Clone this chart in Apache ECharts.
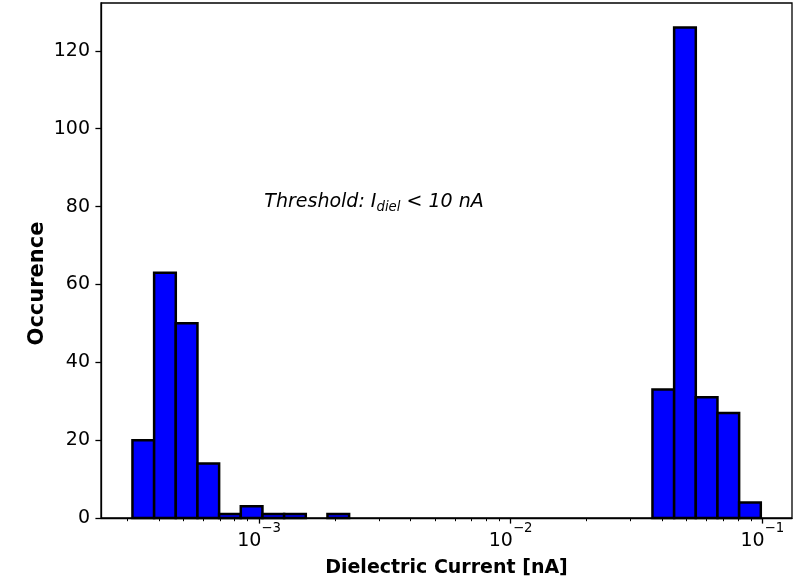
<!DOCTYPE html>
<html><head><meta charset="utf-8">
<script src="https://cdn.jsdelivr.net/npm/echarts@6/dist/echarts.min.js"></script>
<style>html,body{margin:0;padding:0;background:#fff}#c{width:796px;height:583px}</style>
</head><body><div id="c"></div>
<script>
// Histogram of dielectric current (log-spaced bins, 29 bins)
const binLogMin = -3.503;          // log10 of lower edge of first bin
const binLogMax = -1.006;          // log10 of upper edge of last bin
const counts = [20, 63, 50, 14, 1, 3, 1, 1, 0, 1,
                0, 0, 0, 0, 0, 0, 0, 0, 0, 0,
                0, 0, 0, 0, 33, 126, 31, 27, 4];
const xMajorTicks = [-3, -2, -1];
const xMinorValues = [3e-4, 4e-4, 5e-4, 6e-4, 7e-4, 8e-4, 9e-4,
                      2e-3, 3e-3, 4e-3, 5e-3, 6e-3, 7e-3, 8e-3, 9e-3,
                      2e-2, 3e-2, 4e-2, 5e-2, 6e-2, 7e-2, 8e-2, 9e-2];
const yTicks = [0, 20, 40, 60, 80, 100, 120];
const xName = 'Dielectric Current [nA]';
const yName = 'Occurence';
const annotPos = [1.05e-3, 79];

const nBins = counts.length;
const edges = [];
for (let i = 0; i <= nBins; i++) edges.push(binLogMin + i * (binLogMax - binLogMin) / nBins);
const barData = [];
counts.forEach((c, i) => { if (c > 0) barData.push([edges[i], edges[i + 1], c]); });
const minorLog = xMinorValues.map(v => Math.log10(v));

const FF = 'DejaVu Sans';
const XMIN = -3.628, XMAX = -0.882;

const chart = echarts.init(document.getElementById('c'), null, {renderer: 'canvas'});
chart.setOption({
  animation: false,
  backgroundColor: '#fff',
  grid: {left: 101, right: 4, top: 3, bottom: 65, show: true, borderColor: '#000', borderWidth: 1.3,
         backgroundColor: 'transparent', containLabel: false, outerBoundsMode: 'none'},
  xAxis: [{
    type: 'value', min: XMIN, max: XMAX, position: 'bottom',
    axisLine: {show: true, onZero: false, lineStyle: {color: '#000', width: 1.3}},
    splitLine: {show: false},
    axisTick: {show: true, inside: false, length: 5.6, customValues: xMajorTicks, lineStyle: {color: '#000', width: 1.3}},
    axisLabel: {
      customValues: xMajorTicks, margin: 4.5,
      formatter: v => '{b|10}{s|\u2212' + Math.round(-v) + '}',
      rich: {
        b: {fontFamily: FF, fontSize: 19, color: '#000', lineHeight: 28, verticalAlign: 'bottom'},
        s: {fontFamily: FF, fontSize: 13.3, color: '#000', verticalAlign: 'top'}
      }
    },
    name: xName, nameLocation: 'middle', nameGap: 41,
    nameTextStyle: {fontFamily: FF, fontWeight: 'bold', fontSize: 19, color: '#000'}
  }, {
    type: 'value', min: XMIN, max: XMAX, position: 'bottom',
    axisLine: {show: false, onZero: false},
    splitLine: {show: false},
    axisTick: {show: true, inside: false, length: 3.2, customValues: minorLog, lineStyle: {color: '#000', width: 1}},
    axisLabel: {show: false}
  }],
  yAxis: {
    type: 'value', min: 0, max: 132.3,
    axisLine: {show: true, lineStyle: {color: '#000', width: 1.3}},
    splitLine: {show: false},
    axisTick: {show: true, inside: false, length: 5.6, customValues: yTicks, lineStyle: {color: '#000', width: 1.3}},
    axisLabel: {customValues: yTicks, margin: 11, fontFamily: FF, fontSize: 19, color: '#000'},
    name: yName, nameLocation: 'middle', nameGap: 53, nameRotate: 90, nameMoveOverlap: false,
    nameTextStyle: {fontFamily: FF, fontWeight: 'bold', fontSize: 21, color: '#000', padding: [0, 46, 0, 0]}
  },
  series: [{
    type: 'custom', xAxisIndex: 0, yAxisIndex: 0,
    data: barData,
    encode: {x: [0, 1], y: 2},
    renderItem: (params, api) => {
      const p0 = api.coord([api.value(0), api.value(2)]);
      const p1 = api.coord([api.value(1), 0]);
      return {type: 'rect', shape: {x: p0[0], y: p0[1], width: p1[0] - p0[0], height: p1[1] - p0[1]},
              style: {fill: '#0000ff', stroke: '#000', lineWidth: 2.5}};
    }
  }, {
    type: 'custom', xAxisIndex: 0, yAxisIndex: 0,
    data: [[Math.log10(annotPos[0]), annotPos[1]]],
    encode: {x: 0, y: 1},
    renderItem: (params, api) => {
      const p = api.coord([api.value(0), api.value(1)]);
      return {type: 'text', x: p[0], y: p[1] - 21,
        style: {
          text: '{a|Threshold: I}{s|diel}{a| < 10 nA}',
          align: 'left', verticalAlign: 'top', fill: '#000',
          rich: {
            a: {fontFamily: FF, fontStyle: 'italic', fontSize: 19, color: '#000', lineHeight: 25},
            s: {fontFamily: FF, fontStyle: 'italic', fontSize: 13.3, color: '#000', verticalAlign: 'bottom'}
          }
        }};
    }
  }]
});
</script>
</body></html>
